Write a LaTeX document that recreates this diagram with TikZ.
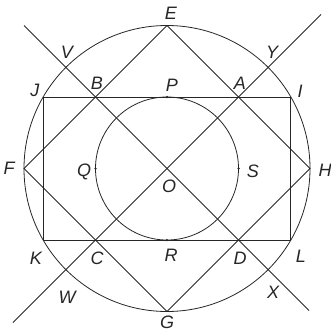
\documentclass[tikz,border=0pt]{standalone}
\usepackage{fontspec}
\setmainfont{Liberation Sans}
\begin{document}
\begin{tikzpicture}[x=1pt,y=-1pt,
  geo/.style={line width=0.8pt,draw=black!85},
  lab/.style={font=\fontsize{18}{18}\selectfont\itshape,text=black!85,inner sep=0pt},
  dotpt/.style={circle,fill=black!85,inner sep=0pt,minimum size=2.5pt}]
\useasboundingbox (0,0) rectangle (330,332);
% key points
\coordinate (O) at (167,168.5);
\coordinate (E) at (167,25.5);
\coordinate (G) at (167,311.5);
\coordinate (F) at (24,168.5);
\coordinate (H) at (310,168.5);
\coordinate (J) at (43.2,97);
\coordinate (I) at (290.8,97);
\coordinate (K) at (43.2,240);
\coordinate (L) at (290.8,240);
\coordinate (A) at (238.5,97);
\coordinate (B) at (95.5,97);
\coordinate (C) at (95.5,240);
\coordinate (D) at (238.5,240);
\coordinate (V1) at (24,25.5);
\coordinate (X1) at (309,310.5);
\coordinate (W1) at (13,322.5);
\coordinate (Y1) at (321,14.5);
% circles
\draw[geo] (O) circle[radius=143];
\draw[geo] (O) circle[radius=71.5];
% rectangle
\draw[geo] (J) -- (I) -- (L) -- (K) -- cycle;
% square
\draw[geo] (E) -- (H) -- (G) -- (F) -- cycle;
% diagonals
\draw[geo] (V1) -- (X1);
\draw[geo] (W1) -- (Y1);
% dots
\node[dotpt] (P) at (167,97) {};
\node[dotpt] (R) at (167,240) {};
\node[dotpt] (Q) at (95.5,168.5) {};
\node[dotpt] (S) at (238.5,168.5) {};
% labels
\node[lab] (lE) at (171,13) {E};
\node[lab] (lG) at (167,322) {G};
\node[lab] (lF) at (9,168) {F};
\node[lab] (lH) at (325,170) {H};
\node[lab] (lJ) at (35,90) {J};
\node[lab] (lV) at (67,52) {V};
\node[lab] (lB) at (97,83) {B};
\node[lab] (lP) at (172,85) {P};
\node[lab] (lA) at (240,83) {A};
\node[lab] (lY) at (272,52) {Y};
\node[lab] (lI) at (300,91) {I};
\node[lab] (lQ) at (84,172) {Q};
\node[lab] (lO) at (169,186) {O};
\node[lab] (lS) at (253,171) {S};
\node[lab] (lK) at (36,258) {K};
\node[lab] (lC) at (97,258) {C};
\node[lab] (lR) at (171,255) {R};
\node[lab] (lD) at (240,258) {D};
\node[lab] (lL) at (301,256) {L};
\node[lab] (lW) at (67,297) {W};
\node[lab] (lX) at (273,292) {X};
\end{tikzpicture}
\end{document}
